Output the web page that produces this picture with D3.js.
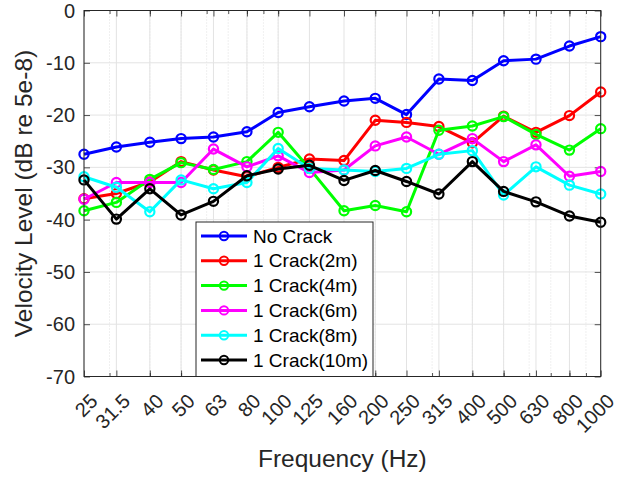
<!DOCTYPE html>
<html>
<head>
<meta charset="utf-8">
<script src="https://cdn.jsdelivr.net/npm/d3@7"></script>
<style>
  html, body { margin: 0; padding: 0; background: #fff; }
  svg { display: block; font-family: "Liberation Sans", Arial, sans-serif; }
</style>
</head>
<body>
<svg id="chart" width="625" height="477"></svg>
<script>
// One-third octave band centre frequencies (Hz)
const bands = [25, 31.5, 40, 50, 63, 80, 100, 125, 160, 200, 250, 315, 400, 500, 630, 800, 1000];
const bandLabels = ["25", "31.5", "40", "50", "63", "80", "100", "125", "160", "200", "250", "315", "400", "500", "630", "800", "1000"];
const yTicks = [0, -10, -20, -30, -40, -50, -60, -70];

// Velocity level per band (dB re 5e-8)
const noCrack  = [-27.5, -26.1, -25.2, -24.5, -24.2, -23.2, -19.5, -18.4, -17.3, -16.8, -19.9, -13.1, -13.4, -9.6, -9.3, -6.8, -5.0];
const crack2m  = [-36.0, -35.0, -32.8, -28.9, -30.5, -31.8, -30.0, -28.4, -28.7, -21.0, -21.4, -22.2, -25.3, -20.2, -23.3, -20.1, -15.6];
const crack4m  = [-38.3, -36.7, -32.3, -29.1, -30.4, -28.9, -23.3, -30.2, -38.3, -37.3, -38.5, -22.9, -22.1, -20.3, -23.7, -26.7, -22.6];
const crack6m  = [-36.1, -32.9, -32.9, -32.9, -26.5, -29.9, -27.8, -31.0, -30.5, -25.9, -24.2, -27.5, -24.5, -28.9, -25.7, -31.7, -30.8];
const crack8m  = [-31.8, -33.8, -38.5, -32.4, -34.1, -32.9, -26.4, -30.2, -30.5, -30.8, -30.2, -27.5, -26.8, -35.3, -29.9, -33.4, -35.1];
const crack10m = [-32.4, -39.9, -34.1, -39.1, -36.5, -31.6, -30.3, -29.6, -32.5, -30.6, -32.7, -35.1, -28.9, -34.6, -36.6, -39.3, -40.5];

const seriesNames  = ["No Crack", "1 Crack(2m)", "1 Crack(4m)", "1 Crack(6m)", "1 Crack(8m)", "1 Crack(10m)"];
const seriesValues = [noCrack, crack2m, crack4m, crack6m, crack8m, crack10m];
const seriesColors = ["#0000ff", "#ff0000", "#00ff00", "#ff00ff", "#00ffff", "#000000"];

// Plot area
const plotLeft = 84, plotRight = 600.7, plotTop = 10.5, plotBottom = 376.5;
const axisColor = "#262626";

const svg = d3.select("#chart");

const x = d3.scaleLog().domain([25, 1000]).range([plotLeft, plotRight]);
const y = d3.scaleLinear().domain([-70, 0]).range([plotBottom, plotTop]);

// Minor log positions (2..9 x decade) inside the domain
const minorTicks = [];
[10, 100].forEach(dec => { for (let k = 1; k <= 9; k++) { const v = k * dec; if (v > 25 && v < 1000) minorTicks.push(v); } });

const grid = svg.append("g");
// minor vertical grid (dotted)
grid.append("g").selectAll("line").data(minorTicks).join("line")
  .attr("x1", d => x(d)).attr("x2", d => x(d))
  .attr("y1", plotTop).attr("y2", plotBottom)
  .attr("stroke", "#d9d9d9").attr("stroke-width", 0.8)
  .attr("stroke-dasharray", "1,2");
// major vertical grid
grid.append("g").selectAll("line").data(bands).join("line")
  .attr("x1", d => x(d)).attr("x2", d => x(d))
  .attr("y1", plotTop).attr("y2", plotBottom)
  .attr("stroke", "#e3e3e3").attr("stroke-width", 1);
// horizontal grid
grid.append("g").selectAll("line").data(yTicks).join("line")
  .attr("x1", plotLeft).attr("x2", plotRight)
  .attr("y1", d => y(d)).attr("y2", d => y(d))
  .attr("stroke", "#e3e3e3").attr("stroke-width", 1);

// Axes with inward ticks on all four sides
const bottomAxis = d3.axisBottom(x).tickValues(bands).tickSize(-6).tickFormat(() => "");
const topAxis = d3.axisTop(x).tickValues(bands).tickSize(-6).tickFormat(() => "");
const bottomMinor = d3.axisBottom(x).tickValues(minorTicks).tickSize(-3.5).tickFormat(() => "");
const topMinor = d3.axisTop(x).tickValues(minorTicks).tickSize(-3.5).tickFormat(() => "");
const leftAxis = d3.axisLeft(y).tickValues(yTicks).tickSize(-6).tickFormat(() => "");
const rightAxis = d3.axisRight(y).tickValues(yTicks).tickSize(-6).tickFormat(() => "");

function styleAxis(g) {
  g.select(".domain").remove();
  g.selectAll(".tick line").attr("stroke", axisColor).attr("stroke-width", 0.8);
}
svg.append("g").attr("transform", `translate(0,${plotBottom})`).call(bottomAxis).call(styleAxis);
svg.append("g").attr("transform", `translate(0,${plotBottom})`).call(bottomMinor).call(styleAxis);
svg.append("g").attr("transform", `translate(0,${plotTop})`).call(topAxis).call(styleAxis);
svg.append("g").attr("transform", `translate(0,${plotTop})`).call(topMinor).call(styleAxis);
svg.append("g").attr("transform", `translate(${plotLeft},0)`).call(leftAxis).call(styleAxis);
svg.append("g").attr("transform", `translate(${plotRight},0)`).call(rightAxis).call(styleAxis);

// Data lines and circle markers
const line = d3.line().x((d, i) => x(bands[i])).y(d => y(d));
seriesValues.forEach((vals, s) => {
  const g = svg.append("g");
  g.append("path").datum(vals)
    .attr("d", line).attr("fill", "none")
    .attr("stroke", seriesColors[s]).attr("stroke-width", 3)
    .attr("stroke-linejoin", "round");
  g.selectAll("circle").data(vals).join("circle")
    .attr("cx", (d, i) => x(bands[i])).attr("cy", d => y(d))
    .attr("r", 4.6).attr("fill", "none")
    .attr("stroke", seriesColors[s]).attr("stroke-width", 2.2);
});

// Box
svg.append("rect")
  .attr("x", plotLeft).attr("y", plotTop)
  .attr("width", plotRight - plotLeft).attr("height", plotBottom - plotTop)
  .attr("fill", "none").attr("stroke", axisColor).attr("stroke-width", 1);

// Y tick labels
svg.append("g").selectAll("text").data(yTicks).join("text")
  .attr("x", plotLeft - 9).attr("y", d => y(d))
  .attr("text-anchor", "end").attr("dominant-baseline", "central")
  .attr("font-size", 20).attr("fill", axisColor)
  .text(d => d);

// X tick labels, rotated 45 degrees
svg.append("g").selectAll("text").data(bands).join("text")
  .attr("transform", d => `translate(${x(d) + 10},${plotBottom + 21}) rotate(-45)`)
  .attr("text-anchor", "end").attr("dominant-baseline", "central")
  .attr("font-size", 20).attr("fill", axisColor)
  .text((d, i) => bandLabels[i]);

// Axis titles
svg.append("text")
  .attr("x", (plotLeft + plotRight) / 2).attr("y", 467)
  .attr("text-anchor", "middle").attr("font-size", 24.5).attr("fill", axisColor)
  .text("Frequency (Hz)");
svg.append("text")
  .attr("transform", `translate(32,${(plotTop + plotBottom) / 2}) rotate(-90)`)
  .attr("text-anchor", "middle").attr("font-size", 24.5).attr("fill", axisColor)
  .text("Velocity Level (dB re 5e-8)");

// Legend
const lg = svg.append("g");
const lgX = 196, lgY = 222, lgW = 177, lgH = plotBottom - 222;
lg.append("rect").attr("x", lgX).attr("y", lgY).attr("width", lgW).attr("height", lgH)
  .attr("fill", "#fff").attr("stroke", axisColor).attr("stroke-width", 1);
seriesNames.forEach((name, s) => {
  const cy = 236 + s * 24.8;
  lg.append("line").attr("x1", 201).attr("x2", 247).attr("y1", cy).attr("y2", cy)
    .attr("stroke", seriesColors[s]).attr("stroke-width", 3);
  lg.append("circle").attr("cx", 224).attr("cy", cy).attr("r", 4.2)
    .attr("fill", "none").attr("stroke", seriesColors[s]).attr("stroke-width", 2);
  lg.append("text").attr("x", 253).attr("y", cy).attr("dominant-baseline", "central")
    .attr("font-size", 19).attr("fill", "#000").text(name);
});
</script>
</body>
</html>
